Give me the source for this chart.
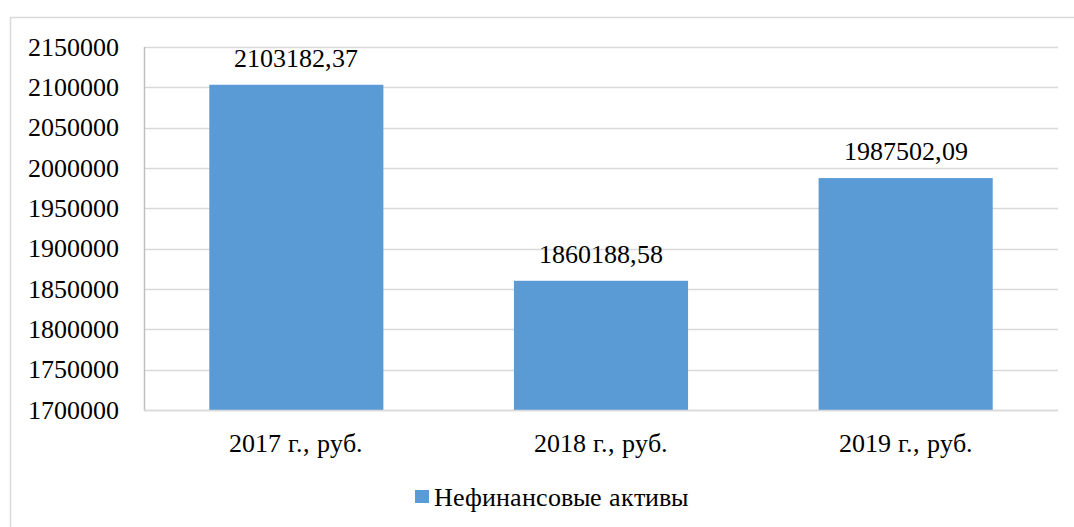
<!DOCTYPE html>
<html>
<head>
<meta charset="utf-8">
<script src="https://cdn.jsdelivr.net/npm/d3@7"></script>
<style>
  @font-face {
    font-family: 'ChartSerif';
    src: local('Liberation Serif'), local('LiberationSerif'), local('Liberation Serif Regular'),
         local('LiberationSerif-Regular'), local('Tinos'), local('Times New Roman');
  }
  body { margin: 0; background: #fff; }
  svg text { font-family: 'ChartSerif', 'Liberation Serif', 'Times New Roman', serif; }
</style>
</head>
<body>
<div id="chart"></div>
<script>
// data
var categories = ['2017 г., руб.', '2018 г., руб.', '2019 г., руб.'];
var values = [2103182.37, 1860188.58, 1987502.09];
var labels = ['2103182,37', '1860188,58', '1987502,09'];
var y_ticks = [1700000, 1750000, 1800000, 1850000, 1900000, 1950000, 2000000, 2050000, 2100000, 2150000];
var series_name = 'Нефинансовые активы';

var chart_width = 1074;
var chart_height = 527;
var plot = { left: 144, right: 1058, top: 47, bottom: 410 };
var bar_color = '#5B9BD5';
var font_size = 26;

var svg = d3
  .select('#chart')
  .append('svg')
  .attr('width', chart_width)
  .attr('height', chart_height);

// outer frame, runs off the right and bottom edge
svg
  .append('rect')
  .attr('x', 10.5)
  .attr('y', 17.5)
  .attr('width', chart_width + 10)
  .attr('height', chart_height + 10)
  .attr('fill', 'none')
  .attr('stroke', '#d9d9d9')
  .attr('stroke-width', 1.5);

// scales
var x_scale = d3
  .scaleBand()
  .domain(d3.range(categories.length))
  .range([plot.left, plot.right]);

var y_scale = d3
  .scaleLinear()
  .domain([1700000, 2150000])
  .range([plot.bottom, plot.top]);

// gap width 75% like excel
var bar_w = x_scale.bandwidth() / 1.75;

// gridlines
svg
  .selectAll('line.grid')
  .data(y_ticks)
  .enter()
  .append('line')
  .attr('class', 'grid')
  .attr('x1', plot.left)
  .attr('x2', plot.right)
  .attr('y1', function(d) { return Math.round(y_scale(d)) + 0.5; })
  .attr('y2', function(d) { return Math.round(y_scale(d)) + 0.5; })
  .attr('stroke', '#d9d9d9')
  .attr('stroke-width', 1.5);

// left axis line
svg
  .append('line')
  .attr('x1', plot.left + 0.5)
  .attr('x2', plot.left + 0.5)
  .attr('y1', plot.top)
  .attr('y2', plot.bottom + 1)
  .attr('stroke', '#bfbfbf')
  .attr('stroke-width', 1.5);

// y tick labels
svg
  .selectAll('text.ytick')
  .data(y_ticks)
  .enter()
  .append('text')
  .attr('class', 'ytick')
  .attr('x', 119)
  .attr('y', function(d) { return y_scale(d) + 8.5; })
  .attr('font-size', font_size)
  .attr('text-anchor', 'end')
  .text(function(d) { return d; });

// bars
svg
  .selectAll('rect.bar')
  .data(values)
  .enter()
  .append('rect')
  .attr('class', 'bar')
  .attr('x', function(d, i) { return x_scale(i) + (x_scale.bandwidth() - bar_w) / 2; })
  .attr('y', function(d) { return y_scale(d); })
  .attr('width', bar_w)
  .attr('height', function(d) { return plot.bottom - y_scale(d); })
  .attr('fill', bar_color);

// bottom axis line over the bars
svg
  .append('line')
  .attr('x1', plot.left)
  .attr('x2', plot.right)
  .attr('y1', plot.bottom + 0.5)
  .attr('y2', plot.bottom + 0.5)
  .attr('stroke', '#d9d9d9')
  .attr('stroke-width', 1.5);

// value labels
svg
  .selectAll('text.val')
  .data(values)
  .enter()
  .append('text')
  .attr('class', 'val')
  .attr('x', function(d, i) { return x_scale(i) + x_scale.bandwidth() / 2; })
  .attr('y', function(d) { return y_scale(d) - 18; })
  .attr('font-size', font_size)
  .attr('text-anchor', 'middle')
  .text(function(d, i) { return labels[i]; });

// category labels
svg
  .selectAll('text.cat')
  .data(categories)
  .enter()
  .append('text')
  .attr('class', 'cat')
  .attr('x', function(d, i) { return x_scale(i) + x_scale.bandwidth() / 2; })
  .attr('y', 452)
  .attr('font-size', font_size)
  .attr('text-anchor', 'middle')
  .text(function(d) { return d; });

// legend
svg
  .append('rect')
  .attr('x', 415)
  .attr('y', 490)
  .attr('width', 14)
  .attr('height', 13)
  .attr('fill', bar_color);

svg
  .append('text')
  .attr('x', 434)
  .attr('y', 506)
  .attr('font-size', font_size)
  .text(series_name);
</script>
</body>
</html>
